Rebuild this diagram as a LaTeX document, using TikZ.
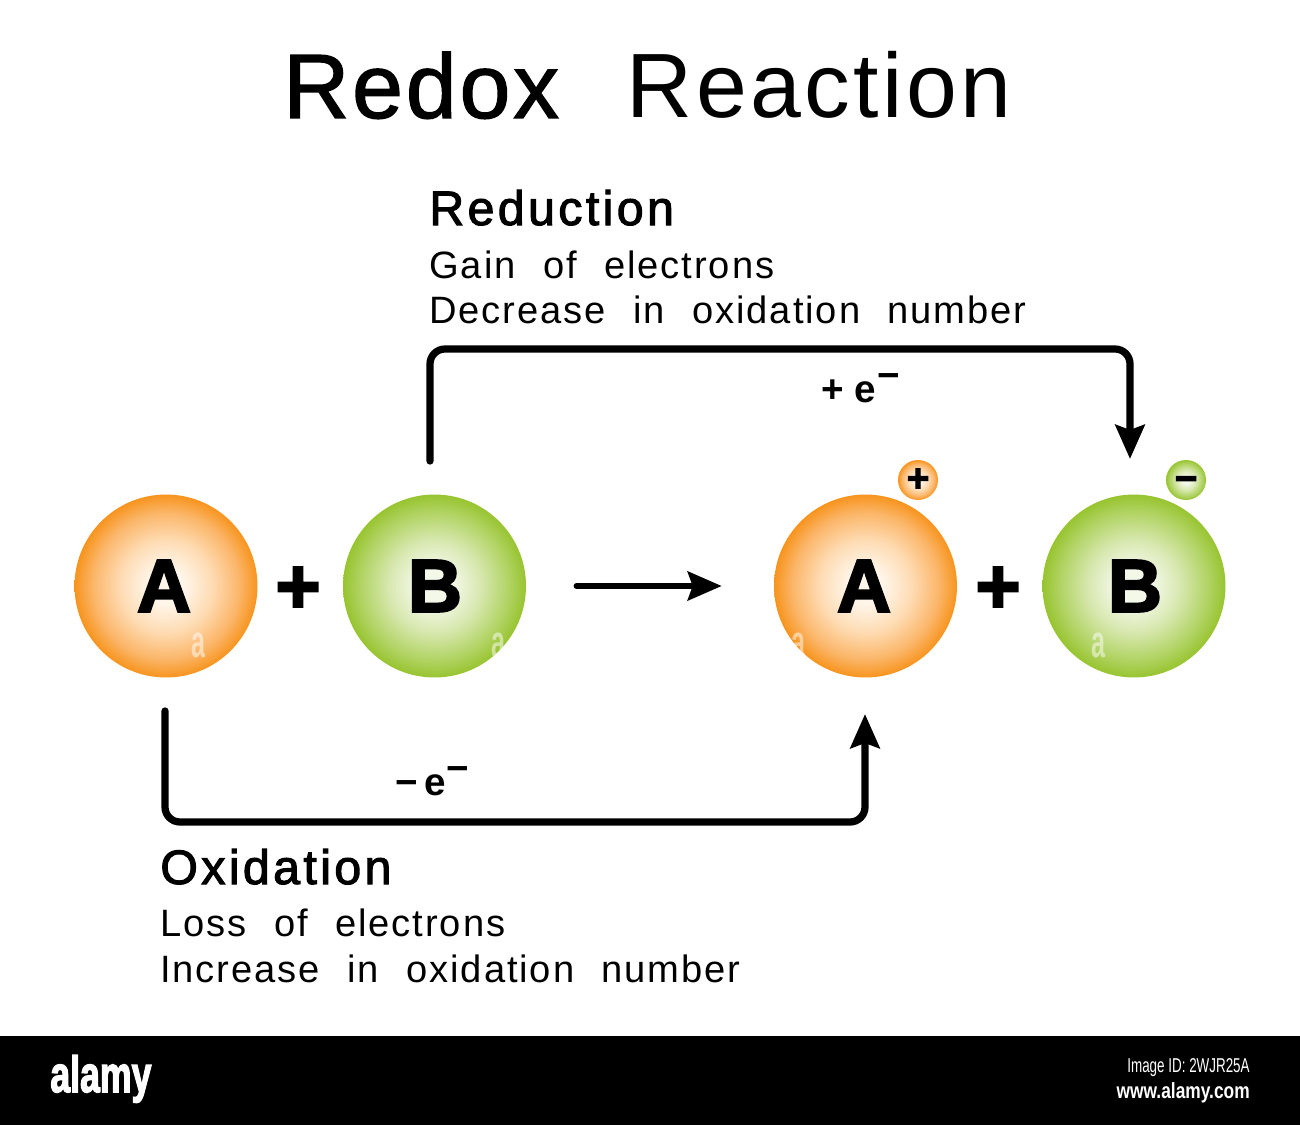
\documentclass[tikz,border=0pt]{standalone}
\usepackage{fontspec}
\usepackage{xcolor}
\setmainfont{Liberation Sans}
\newfontfamily\titlefont[LetterSpace=3.8,WordSpace=2.4]{Liberation Sans}
\newfontfamily\titleheavy[LetterSpace=3.2,WordSpace=2.4,FakeBold=1.5]{Liberation Sans}
\newfontfamily\headfont[LetterSpace=7,FakeBold=2.2]{Liberation Sans}
\newfontfamily\bodyfont[LetterSpace=5,WordSpace=2.2]{Liberation Sans}
\newfontfamily\heavyfont[FakeBold=3]{Liberation Sans Bold}
\usetikzlibrary{arrows.meta}
\definecolor{orangeEdge}{RGB}{247, 148, 30}
\definecolor{orangeMid}{RGB}{251, 182, 105}
\definecolor{orangeSoft}{RGB}{254, 220, 180}
\definecolor{orangeCore}{RGB}{255, 245, 232}
\definecolor{greenEdge}{RGB}{152, 196, 48}
\definecolor{greenMid}{RGB}{178, 212, 102}
\definecolor{greenSoft}{RGB}{216, 232, 176}
\definecolor{greenCore}{RGB}{243, 248, 232}
\pgfdeclareradialshading{orangeball}{\pgfpoint{0bp}{0bp}}{color(0bp)=(orangeCore); color(5bp)=(orangeCore); color(12.5bp)=(orangeSoft); color(20bp)=(orangeMid); color(25bp)=(orangeEdge); color(50bp)=(orangeEdge)}
\pgfdeclareradialshading{greenball}{\pgfpoint{0bp}{0bp}}{color(0bp)=(greenCore); color(5bp)=(greenCore); color(12.5bp)=(greenSoft); color(20bp)=(greenMid); color(25bp)=(greenEdge); color(50bp)=(greenEdge)}
\tikzset{
  ballA/.style={circle, minimum size=3.66cm, inner sep=0pt, shading=orangeball},
  ballB/.style={circle, minimum size=3.66cm, inner sep=0pt, shading=greenball},
  ionA/.style={circle, minimum size=0.8cm, inner sep=0pt, shading=orangeball},
  ionB/.style={circle, minimum size=0.8cm, inner sep=0pt, shading=greenball},
  ballletter/.style={inner sep=0pt, font=\heavyfont\fontsize{42.5}{42.5}\selectfont},
  ionsign/.style={inner sep=0pt, font=\heavyfont\fontsize{22}{22}\selectfont},
  plussign/.style={inner sep=0pt, font=\heavyfont\fontsize{44}{44}\selectfont},
  headtext/.style={anchor=base west, inner sep=0pt, font=\headfont\fontsize{27.5}{27.5}\selectfont},
  subtext/.style={anchor=base west, inner sep=0pt, font=\bodyfont\fontsize{21.7}{21.7}\selectfont},
  etext/.style={anchor=base west, inner sep=0pt, font=\bfseries\fontsize{22}{22}\selectfont},
  bracket/.style={line width=0.145cm, rounded corners=0.3cm, line cap=round, -{Stealth[length=0.68cm, width=0.58cm, inset=0.1cm]}},
  wmark/.style={inner sep=0pt, text=white, text opacity=0.5, font=\bfseries\fontsize{26}{26}\selectfont}
}
\begin{document}
\begin{tikzpicture}[x=0.02cm, y=-0.02cm]
  \useasboundingbox (0,0) rectangle (1300,1125);
  \fill[black] (0,1036) rectangle (1300,1125);
  % title
  \node[anchor=base west, inner sep=0pt, font=\fontsize{52}{52}\selectfont] (title) at (283,118) {{\titleheavy Redox} {\titlefont\hspace{24pt}Reaction}};
  % left side
  \node[ballA] (aLeft) at (166,586) {};
  \node[ballletter] (aLeftText) at (164,586) {A};
  \node[plussign] (plusLeft) at (298,590) {+};
  \node[ballB] (bLeft) at (434.5,586) {};
  \node[ballletter] (bLeftText) at (435,586) {B};
  % right side
  \node[ballA] (aRight) at (865.5,586) {};
  \node[ballletter] (aRightText) at (864,586) {A};
  \node[plussign] (plusRight) at (998,590) {+};
  \node[ballB] (bRight) at (1134,586) {};
  \node[ballletter] (bRightText) at (1135,586) {B};
  \node[ionA] (ionPlus) at (918,480) {};
  \node[ionsign] (ionPlusText) at (918,480) {+};
  \node[ionB] (ionMinus) at (1186,480) {};
  \node[ionsign] (ionMinusText) at (1186,484) {−};
  % watermark bits
  \node[wmark] (wmA) at (198,645) {\scalebox{0.55}[1]{a}};
  \node[wmark] (wmB) at (498,645) {\scalebox{0.55}[1]{a}};
  \node[wmark] (wmC) at (798,645) {\scalebox{0.55}[1]{a}};
  \node[wmark] (wmD) at (1098,645) {\scalebox{0.55}[1]{a}};
  % labels
  \node[headtext] (redHead) at (429,225) {Reduction};
  \node[subtext] (redGain) at (429,278) {Gain of electrons};
  \node[subtext] (redDec) at (429,323) {Decrease in oxidation number};
  \node[etext] (redE) at (821,402) {+\hspace{0.28em}e\raisebox{7.5pt}{\hspace{0.02em}−}};
  \node[etext] (oxE) at (395,795) {−\hspace{0.18em}e\raisebox{7.5pt}{−}};
  \node[headtext] (oxHead) at (160,884) {Oxidation};
  \node[subtext] (oxLoss) at (160,936) {Loss of electrons};
  \node[subtext] (oxInc) at (160,982) {Increase in oxidation number};
  % connectors
  \coordinate (redStart) at (430,461);
  \coordinate (redEnd) at (1130,459);
  \coordinate (oxStart) at (165,711);
  \coordinate (oxEnd) at (865,714);
  \draw[bracket] (redStart) -- (430,349) -- (1130,349) -- (redEnd);
  \draw[bracket] (oxStart) -- (165,822) -- (865,822) -- (oxEnd);
  \draw[line width=0.11cm, line cap=round, shorten <=1cm, shorten >=1.04cm, -{Stealth[length=0.68cm, width=0.58cm, inset=0.1cm]}] (bLeft) -- (aRight);
  % footer
  \node[anchor=base west, inner sep=0pt, text=white, font=\heavyfont\fontsize{29}{29}\selectfont] (alamyLogo) at (50,1092) {\scalebox{0.7}[1]{alamy}};
  \node[anchor=base east, inner sep=0pt, text=white, font=\fontsize{11.4}{11.4}\selectfont] (imageId) at (1250,1072) {\scalebox{0.67}[1]{Image ID: 2WJR25A}};
  \node[anchor=base east, inner sep=0pt, text=white, font=\bfseries\fontsize{12.5}{12.5}\selectfont] (alamyUrl) at (1250,1098) {\scalebox{0.79}[1]{www.alamy.com}};
\end{tikzpicture}
\end{document}
